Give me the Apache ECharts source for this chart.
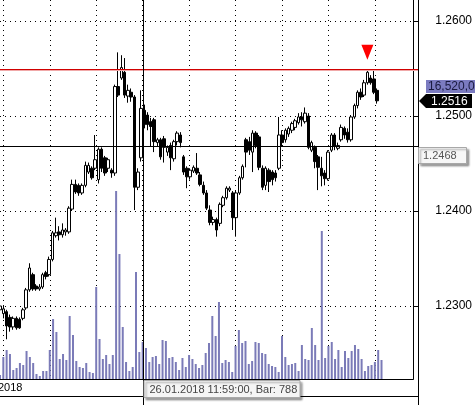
<!DOCTYPE html>
<html><head><meta charset="utf-8">
<script src="https://cdn.jsdelivr.net/npm/echarts@6/dist/echarts.min.js"></script>
<style>html,body{margin:0;padding:0;background:#fff}#c{width:475px;height:405px}</style>
</head><body><div id="c"></div>
<script>
const W = 475, H = 405;
const FONT = "'Liberation Sans', Arial, sans-serif";

// bar numbers shown on the category axis (127 slots, 116 bars filled)
const firstBar = 744;
const categories = [];
for (let i = 0; i < 127; i++) categories.push(String(firstBar + i));

const opens = [1.2296,1.2292,1.2294,1.2288,1.2278,1.2287,1.2286,1.2287,1.2298,1.2317,
1.2333,1.2321,1.2318,1.2320,1.2335,1.2333,1.2349,1.2374,1.2378,1.2375,
1.2378,1.2378,1.2402,1.2428,1.2427,1.2419,1.2427,1.2441,1.2445,1.2445,
1.2433,1.2465,1.2456,1.2445,1.2443,1.2440,1.2531,1.2540,1.2546,1.2521,
1.2525,1.2520,1.2425,1.2456,1.2506,1.2501,1.2494,1.2496,1.2472,1.2475,
1.2476,1.2462,1.2469,1.2455,1.2473,1.2480,1.2457,1.2445,1.2436,1.2442,
1.2445,1.2438,1.2427,1.2419,1.2401,1.2388,1.2391,1.2387,1.2406,1.2414,
1.2422,1.2419,1.2393,1.2419,1.2435,1.2475,1.2473,1.2462,1.2482,1.2478,
1.2445,1.2427,1.2443,1.2441,1.2440,1.2445,1.2480,1.2475,1.2481,1.2485,
1.2488,1.2493,1.2499,1.2494,1.2500,1.2464,1.2467,1.2457,1.2445,1.2440,
1.2434,1.2464,1.2480,1.2466,1.2475,1.2487,1.2483,1.2475,1.2499,1.2511,
1.2525,1.2522,1.2535,1.2540,1.2539,1.2527];
const closes = [1.2300,1.2297,1.2279,1.2278,1.2287,1.2277,1.2277,1.2296,1.2317,1.2340,
1.2318,1.2318,1.2320,1.2333,1.2331,1.2349,1.2377,1.2377,1.2375,1.2380,
1.2380,1.2403,1.2428,1.2420,1.2419,1.2427,1.2448,1.2448,1.2435,1.2454,
1.2465,1.2445,1.2440,1.2454,1.2440,1.2531,1.2522,1.2551,1.2522,1.2527,
1.2520,1.2425,1.2441,1.2508,1.2491,1.2491,1.2489,1.2473,1.2475,1.2457,
1.2467,1.2467,1.2456,1.2473,1.2482,1.2472,1.2441,1.2436,1.2443,1.2446,
1.2440,1.2428,1.2419,1.2403,1.2388,1.2391,1.2380,1.2407,1.2414,1.2424,
1.2424,1.2393,1.2419,1.2435,1.2447,1.2462,1.2464,1.2482,1.2469,1.2446,
1.2425,1.2445,1.2431,1.2433,1.2435,1.2480,1.2472,1.2485,1.2487,1.2492,
1.2495,1.2499,1.2496,1.2503,1.2467,1.2472,1.2452,1.2446,1.2437,1.2434,
1.2462,1.2480,1.2468,1.2469,1.2488,1.2480,1.2475,1.2499,1.2511,1.2525,
1.2520,1.2535,1.2546,1.2535,1.2525,1.2516];
const lows = [1.2294,1.2287,1.2265,1.2273,1.2275,1.2275,1.2276,1.2285,1.2296,1.2315,
1.2316,1.2316,1.2316,1.2318,1.2328,1.2331,1.2347,1.2372,1.2369,1.2372,
1.2374,1.2376,1.2400,1.2418,1.2416,1.2417,1.2425,1.2439,1.2433,1.2443,
1.2429,1.2441,1.2437,1.2441,1.2435,1.2437,1.2520,1.2538,1.2519,1.2514,
1.2515,1.2401,1.2422,1.2452,1.2487,1.2485,1.2468,1.2462,1.2468,1.2454,
1.2451,1.2458,1.2443,1.2452,1.2469,1.2467,1.2438,1.2424,1.2433,1.2440,
1.2438,1.2426,1.2417,1.2401,1.2385,1.2385,1.2373,1.2384,1.2404,1.2412,
1.2420,1.2380,1.2373,1.2417,1.2433,1.2446,1.2459,1.2441,1.2466,1.2443,
1.2422,1.2422,1.2420,1.2427,1.2431,1.2443,1.2468,1.2472,1.2478,1.2482,
1.2485,1.2491,1.2489,1.2492,1.2465,1.2462,1.2445,1.2422,1.2426,1.2427,
1.2432,1.2462,1.2464,1.2464,1.2473,1.2476,1.2472,1.2473,1.2497,1.2508,
1.2517,1.2520,1.2533,1.2533,1.2523,1.2513];
const highs = [1.2303,1.2300,1.2296,1.2291,1.2289,1.2289,1.2288,1.2298,1.2319,1.2345,
1.2335,1.2323,1.2323,1.2335,1.2337,1.2352,1.2379,1.2393,1.2384,1.2387,
1.2382,1.2405,1.2433,1.2433,1.2429,1.2429,1.2452,1.2451,1.2447,1.2480,
1.2467,1.2467,1.2458,1.2456,1.2445,1.2533,1.2567,1.2564,1.2561,1.2533,
1.2529,1.2522,1.2445,1.2527,1.2512,1.2504,1.2498,1.2498,1.2477,1.2477,
1.2479,1.2469,1.2472,1.2475,1.2484,1.2483,1.2459,1.2447,1.2445,1.2448,
1.2461,1.2441,1.2431,1.2422,1.2406,1.2394,1.2393,1.2409,1.2416,1.2426,
1.2426,1.2421,1.2422,1.2437,1.2449,1.2477,1.2478,1.2485,1.2484,1.2480,
1.2448,1.2447,1.2445,1.2443,1.2443,1.2499,1.2485,1.2487,1.2489,1.2494,
1.2497,1.2503,1.2504,1.2509,1.2503,1.2474,1.2469,1.2459,1.2457,1.2443,
1.2464,1.2482,1.2482,1.2472,1.2491,1.2489,1.2487,1.2501,1.2513,1.2527,
1.2529,1.2538,1.2549,1.2543,1.2549,1.2529];
const volumes = [400,2200,2900,2500,900,1100,1600,1400,2800,2200,
1600,500,300,800,800,2900,6000,4700,2000,2500,
1900,6300,4400,1800,1200,1100,1600,700,600,9200,
4000,2000,2400,1500,2400,18800,12500,5200,1700,800,
1200,10700,2700,3700,3100,1700,2200,2300,1500,3900,
3800,2100,2200,1700,900,2100,1200,2400,2000,1500,
1100,1400,2600,3600,6300,4300,7700,1600,1900,1700,
700,3300,4900,3600,3800,1500,1800,3700,3600,2600,
2500,1500,1300,1200,700,4300,2200,1400,1500,1600,
800,3400,2000,1900,5100,3400,1900,14800,2100,3300,
3700,2000,2900,1200,2800,2100,2800,3400,3000,2000,
800,1300,1400,1700,2900,1900];

const priceTicks = [1.23, 1.24, 1.25, 1.26];
const priceMin = 1.222316, priceMax = 1.262211;
const volumeMax = 37900;
const resistance = 1.2550;
const crossPrice = 1.2468;
const crossBarIndex = 43, crossBarFrac = 0.55;
const markerBarIndex = 112, markerPrice = 1.2567;
const crossDateText = '26.01.2018 11:59:00, Bar: 788';
const indicatorText = '16,520,0';
const dateAxisText = '2018';

const GRID = {left: 0, right: 57, top: 0, bottom: 26};
const candleData = opens.map((o, i) => [o, closes[i], lows[i], highs[i]]);

const chart = echarts.init(document.getElementById('c'), null, {renderer: 'canvas'});
const dotted = {color: '#000', width: 1, type: [1, 4]};

chart.setOption({
  animation: false,
  backgroundColor: '#fff',
  grid: [Object.assign({}, GRID), Object.assign({}, GRID)],
  xAxis: [
    {type: 'category', gridIndex: 0, data: categories, boundaryGap: false,
     axisLine: {show: true, lineStyle: {color: '#000', width: 1}}, axisTick: {show: false},
     axisLabel: {show: false}, splitLine: {show: false}},
    {type: 'category', gridIndex: 1, data: categories, boundaryGap: false,
     axisLine: {show: false}, axisTick: {show: false}, axisLabel: {show: false},
     splitLine: {show: true, interval: (idx) => idx % 14 === 1, lineStyle: dotted}}
  ],
  yAxis: [
    {type: 'value', gridIndex: 0, position: 'right', min: priceMin, max: priceMax, splitNumber: 4,
     axisLine: {show: true, lineStyle: {color: '#000', width: 1}},
     axisTick: {show: true, length: 5, lineStyle: {color: '#000'}},
     axisLabel: {show: true, showMinLabel: false, showMaxLabel: false, margin: 22,
                 formatter: v => v.toFixed(4), color: '#000', fontSize: 12, fontFamily: FONT},
     splitLine: {show: false}},
    {type: 'value', gridIndex: 1, min: 0, max: volumeMax, show: false, splitLine: {show: false}}
  ],
  series: [
    {type: 'bar', name: 'volume', xAxisIndex: 1, yAxisIndex: 1, data: volumes, barWidth: 2,
     itemStyle: {color: '#7b7bb8'}, silent: true, z: 2},
    {type: 'candlestick', name: 'price', xAxisIndex: 0, yAxisIndex: 0, data: candleData, barWidth: 3,
     itemStyle: {color: '#ffffff', color0: '#000000', borderColor: '#000000', borderColor0: '#000000', borderWidth: 1},
     z: 3,
     markPoint: {
       silent: true, animation: false,
       data: [{coord: [categories[markerBarIndex], markerPrice], symbol: 'triangle', symbolRotate: 180,
               symbolSize: [12, 15], itemStyle: {color: '#ff0000'}, label: {show: false}}]
     }}
  ]
});

// overlay lines and labels positioned through the chart's own scales
const toPx = (i, p) => chart.convertToPixel({gridIndex: 0}, [i, p]);
const p0 = toPx(crossBarIndex, crossPrice);
const p1 = toPx(crossBarIndex + 1, crossPrice);
const cxi = Math.round(p0[0] + (p1[0] - p0[0]) * crossBarFrac);
const cx = cxi + 0.5;
const cy = Math.round(p0[1]);
const yRes = Math.round(toPx(0, resistance)[1]);
const yLast = Math.round(toPx(115, closes[closes.length - 1])[1]);
const axisX = W - GRID.right;
const plotBottom = H - GRID.bottom;
const shadow = {shadowBlur: 2, shadowOffsetX: 2, shadowOffsetY: 2, shadowColor: 'rgba(0,0,0,0.35)'};

const gridLines = priceTicks.map(v => {
  const y = Math.round(toPx(0, v)[1]) + 0.5;
  return {type: 'line', z: 1, silent: true, shape: {x1: 0, y1: y, x2: axisX, y2: y},
          style: {stroke: '#000', lineWidth: 1, lineDash: [1, 4]}};
});

chart.setOption({
  graphic: gridLines.concat([
    {type: 'rect', z: 40, silent: true, shape: {x: 0, y: yRes, width: axisX, height: 1}, style: {fill: '#d00000', stroke: null}},
    {type: 'rect', z: 40, silent: true, shape: {x: 0, y: yRes + 1, width: axisX, height: 1}, style: {fill: '#f0a8a8', stroke: null}},
    {type: 'rect', z: 40, silent: true, shape: {x: 0, y: cy, width: axisX, height: 1}, style: {fill: '#000'}},
    {type: 'rect', z: 50, silent: true, shape: {x: axisX, y: 0, width: 1, height: H}, style: {fill: '#000'}},
    {type: 'rect', z: 50, silent: true, shape: {x: 0, y: plotBottom + 17, width: axisX, height: 1}, style: {fill: '#000'}},
    {type: 'rect', z: 50, silent: true, shape: {x: cxi, y: 0, width: 1, height: H}, style: {fill: '#000'}},
    {type: 'text', z: 51, x: -2, y: plotBottom + 9, style: {text: dateAxisText, fill: '#000', font: '11px ' + FONT, verticalAlign: 'middle'}},
    // crosshair date box
    {type: 'rect', z: 52, shape: {x: cx + 0.5, y: plotBottom + 1.5, width: 156, height: 17},
     style: Object.assign({fill: '#f5f5f5', stroke: '#a8a8a8', lineWidth: 1}, shadow)},
    {type: 'text', z: 53, x: cx + 6, y: plotBottom + 10.5, style: {text: crossDateText, fill: '#444', font: '11px ' + FONT, verticalAlign: 'middle'}},
    // crosshair price box
    {type: 'rect', z: 52, shape: {x: axisX + 0.5, y: cy + 1.5, width: 48, height: 16},
     style: Object.assign({fill: '#f7f7f7', stroke: '#a8a8a8', lineWidth: 1}, shadow)},
    {type: 'text', z: 53, x: axisX + 5, y: cy + 9.5, style: {text: crossPrice.toFixed(4), fill: '#555', font: '11px ' + FONT, verticalAlign: 'middle'}},
    // indicator box
    {type: 'rect', z: 52, shape: {x: axisX + 8, y: yLast - 21, width: 49, height: 13}, style: {fill: '#7b7bc0'}},
    {type: 'text', z: 53, x: axisX + 10, y: yLast - 14.5, style: {text: indicatorText, fill: '#1a1a40', font: '12px ' + FONT, verticalAlign: 'middle'}},
    // last price arrow
    {type: 'polygon', z: 52, shape: {points: [[axisX + 1, yLast], [axisX + 8, yLast - 7], [axisX + 54, yLast - 7], [axisX + 54, yLast + 7], [axisX + 8, yLast + 7]]}, style: {fill: '#000'}},
    {type: 'text', z: 53, x: axisX + 13, y: yLast + 0.5, style: {text: closes[closes.length - 1].toFixed(4), fill: '#fff', font: '12px ' + FONT, verticalAlign: 'middle'}}
  ])
});
</script></body></html>
